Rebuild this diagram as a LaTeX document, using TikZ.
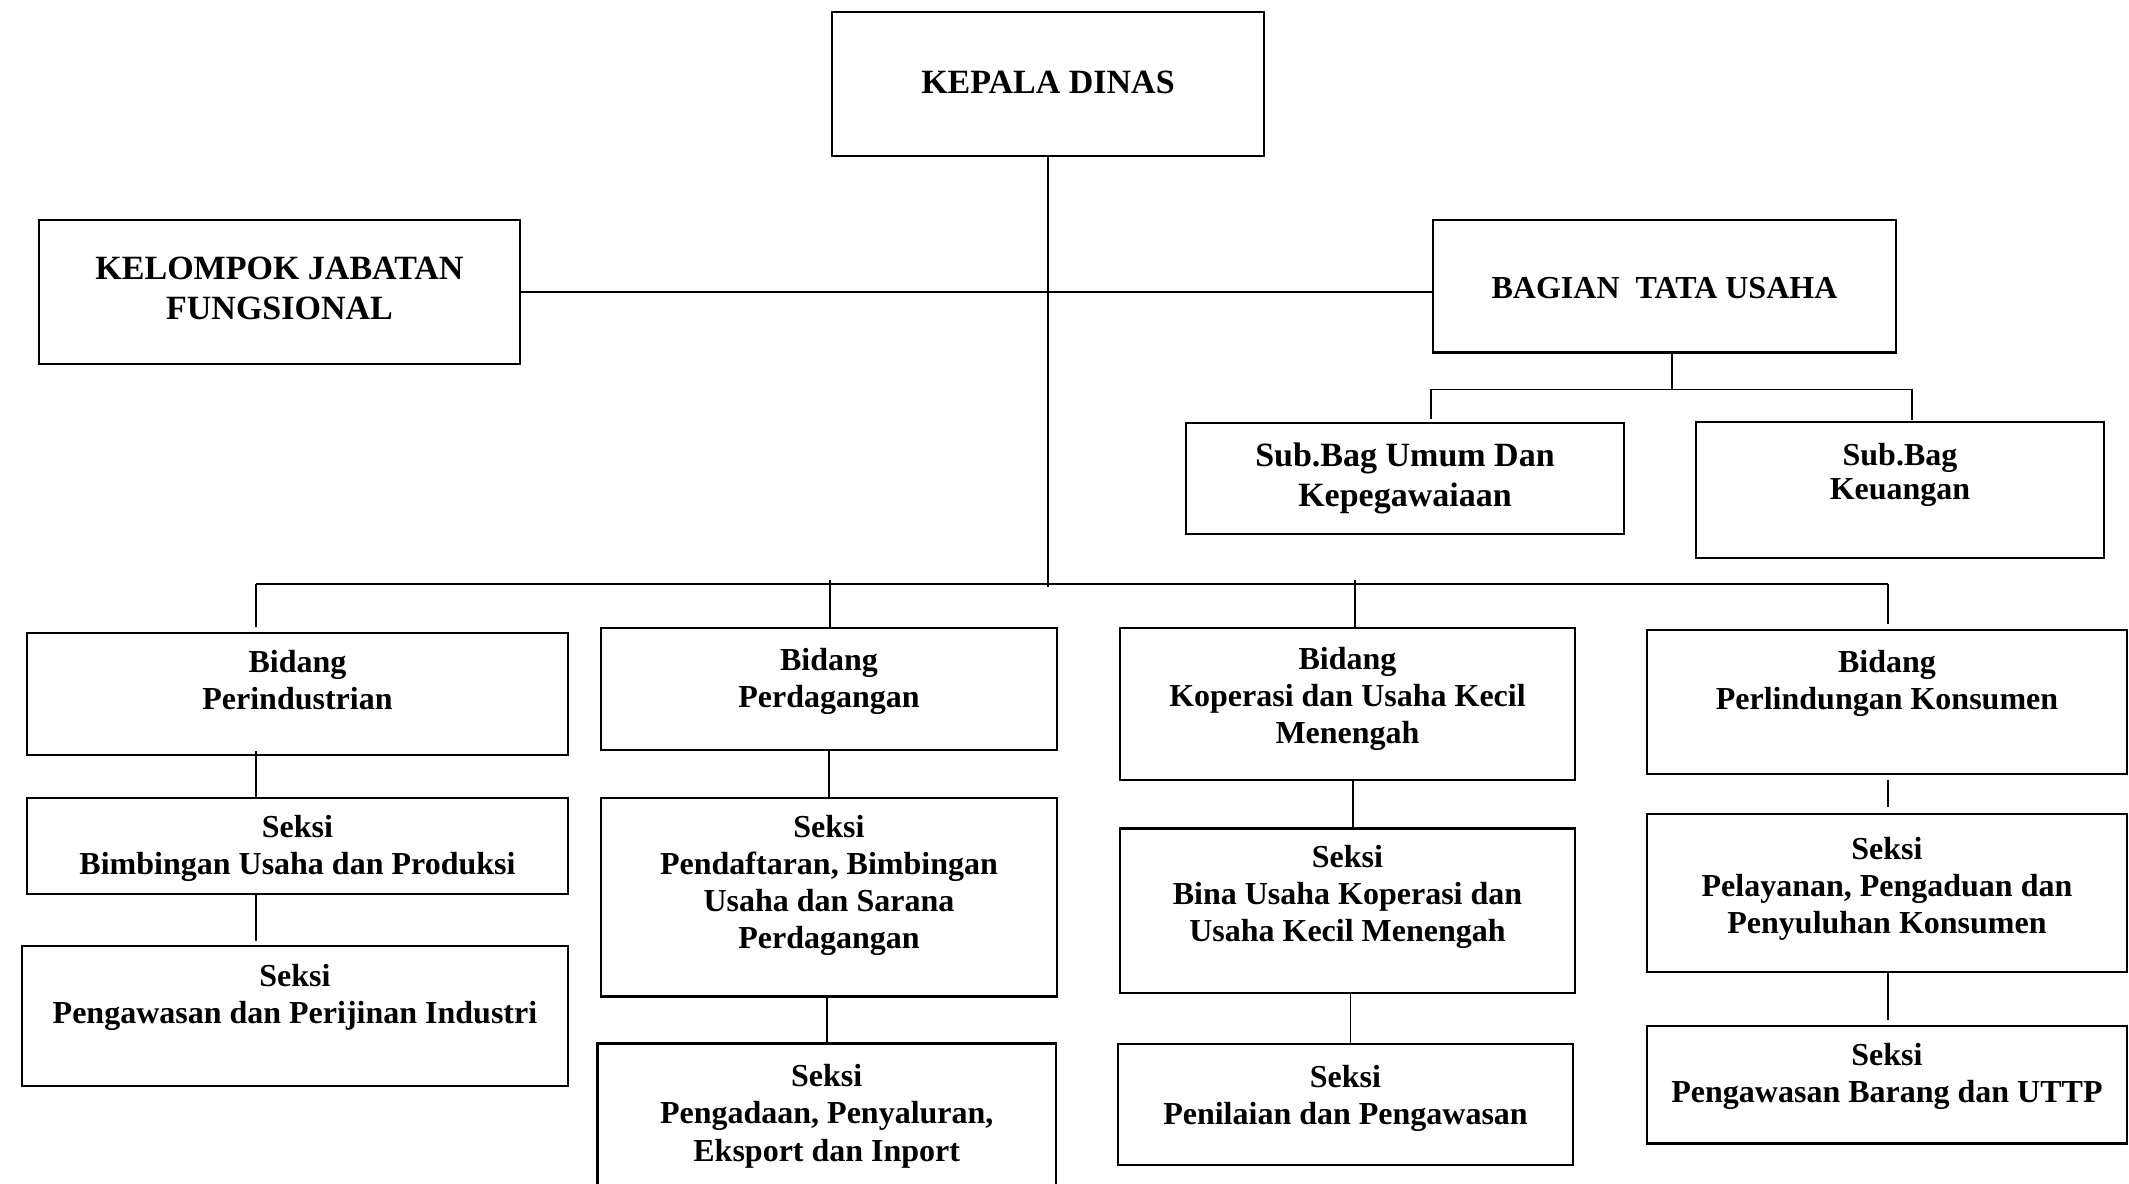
\documentclass[tikz,border=0pt]{standalone}
\usepackage{fontspec}
\setmainfont{Liberation Serif}
\usetikzlibrary{calc}
\newcommand{\bx}[4]{\parbox[c][#2][t]{#1}{\centering\rule{0pt}{#3}#4\par}}
\tikzset{
  orgbox/.style={draw, line width=1.1pt, inner sep=0pt, font=\fontsize{16}{18.6}\selectfont\bfseries},
  bigtext/.style={font=\fontsize{17}{20.3}\selectfont\bfseries},
  conn/.style={line width=0.8pt},
}
\begin{document}
\begin{tikzpicture}[x=0.5pt,y=-0.5pt]
\useasboundingbox (0,0) rectangle (2129,1183);
\fill[white] (0,0) rectangle (2129,1183);

% top level
\node[orgbox,bigtext] (kepala) at (1048,84) {\bx{216pt}{72pt}{40.5pt}{KEPALA DINAS}};
\node[orgbox,bigtext] (kelompok) at (279.5,292) {\bx{240.5pt}{72pt}{29.5pt}{KELOMPOK JABATAN\\FUNGSIONAL}};
\node[orgbox] (bagian) at (1664.5,286.25) {\bx{231.5pt}{66.25pt}{39.25pt}{BAGIAN\ \ TATA USAHA}};
\node[orgbox,bigtext] (subumum) at (1405,478.5) {\bx{219pt}{55.5pt}{21.5pt}{Sub.Bag Umum Dan\\Kepegawaiaan}};
\node[orgbox,font=\fontsize{16}{17.2}\selectfont\bfseries] (subkeu) at (1900,490) {\bx{204pt}{68pt}{21.5pt}{Sub.Bag\\Keuangan}};

% bidang
\node[orgbox] (bid1) at (297.5,694) {\bx{270.5pt}{61pt}{19.5pt}{Bidang\\Perindustrian}};
\node[orgbox] (bid2) at (829,689) {\bx{228pt}{61pt}{21pt}{Bidang\\Perdagangan}};
\node[orgbox] (bid3) at (1347.5,704) {\bx{227.5pt}{76pt}{20.5pt}{Bidang\\Koperasi dan Usaha Kecil\\Menengah}};
\node[orgbox] (bid4) at (1887,702) {\bx{240pt}{72pt}{21pt}{Bidang\\Perlindungan Konsumen}};

% seksi
\node[orgbox] (s11) at (297.5,846) {\bx{270.5pt}{48pt}{19.5pt}{Seksi\\Bimbingan Usaha dan Produksi}};
\node[orgbox] (s12) at (295,1016) {\bx{273pt}{70pt}{20pt}{Seksi\\Pengawasan dan Perijinan Industri}};
\node[orgbox] (s21) at (829,897.25) {\bx{228pt}{99.25pt}{19.5pt}{Seksi\\Pendaftaran, Bimbingan\\Usaha dan Sarana\\Perdagangan}};
\node[orgbox,draw=none] (s22) at (826.75,1113.8) {\bx{228.25pt}{69.2pt}{21pt}{Seksi\\Pengadaan, Penyaluran,\\Eksport dan Inport}};
\draw[line width=1.1pt] (s22.south west) -- (s22.north west) -- (s22.north east) -- (s22.south east);
\node[orgbox] (s31) at (1347.5,910.75) {\bx{227.5pt}{82.25pt}{19.5pt}{Seksi\\Bina Usaha Koperasi dan\\Usaha Kecil Menengah}};
\node[orgbox] (s32) at (1345.5,1104.3) {\bx{227.5pt}{60.3pt}{21.5pt}{Seksi\\Penilaian dan Pengawasan}};
\node[orgbox] (s41) at (1887,893) {\bx{240pt}{79pt}{22.5pt}{Seksi\\Pelayanan, Pengaduan dan\\Penyuluhan Konsumen}};
\node[orgbox] (s42) at (1887,1084.75) {\bx{240pt}{58.75pt}{19.5pt}{Seksi\\Pengawasan Barang dan UTTP}};

% connectors
\coordinate (b1) at (256,584);
\coordinate (b2) at (830,584);
\coordinate (b3) at (1355,584);
\coordinate (b4) at (1888,584);
\coordinate (tb) at (1672,389.6);

\draw[conn] (kepala.south) -- ($(kepala.south |- b1)+(0,3)$);
\draw[conn] (kelompok.east) -- (kelompok.east -| bagian.west);
\draw[conn] (tb |- bagian.south) -- (tb);
\draw[conn] ($(subumum.north)+(26,-3)$) |- (tb) -| ($(subkeu.north)+(12,-1)$);

\draw[conn] (b1) -- (b4);
\draw[conn] (b1) -- ($(b1 |- bid1.north)+(0,-5)$);
\draw[conn] ($(b2)+(0,-4)$) -- (b2 |- bid2.north);
\draw[conn] ($(b3)+(0,-4)$) -- (b3 |- bid3.north);
\draw[conn] (b4) -- ($(b4 |- bid4.north)+(0,-5)$);

\draw[conn] ($(b1 |- bid1.south)+(0,-5)$) -- (b1 |- s11.north);
\draw[conn] (b1 |- s11.south) -- ($(b1 |- s12.north)+(0,-4)$);

\draw[conn] (bid2.south) -- (bid2.south |- s21.north);
\draw[conn] (s22.north |- s21.south) -- (s22.north);

\draw[conn] ($(bid3.south)+(5.5,0)$) -- ($(s31.north)+(5.5,0)$);
\draw[conn] ($(s31.south)+(3,0)$) -- ($(s32.north)+(5,0)$);

\draw[conn] ($(b4 |- bid4.south)+(0,5)$) -- ($(b4 |- s41.north)+(0,-6)$);
\draw[conn] (b4 |- s41.south) -- ($(b4 |- s42.north)+(0,-5)$);
\end{tikzpicture}
\end{document}
